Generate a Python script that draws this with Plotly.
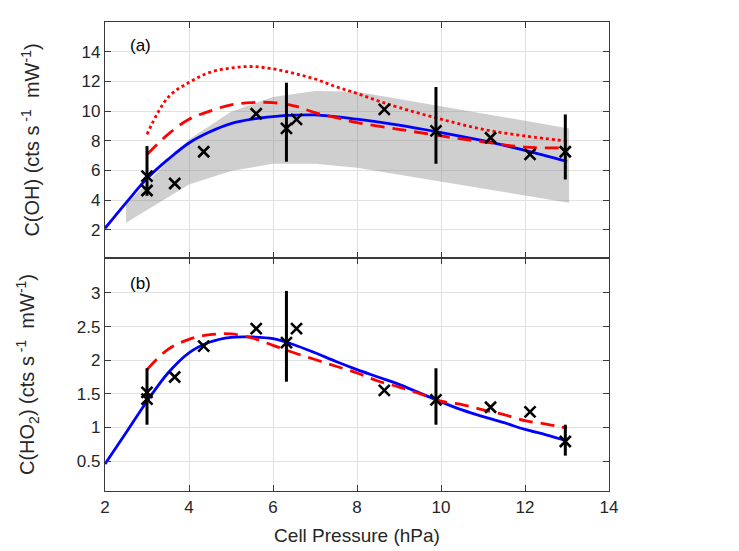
import plotly.graph_objects as go

# ---------------- data ----------------
# Panel (a): C(OH)
oh_obs_x = [3.0, 3.0, 3.66, 4.35, 5.6, 6.32, 6.56, 8.65, 9.88, 11.18, 12.12, 12.96]
oh_obs_y = [5.62, 4.65, 5.12, 7.26, 9.82, 8.83, 9.44, 10.11, 8.66, 8.2, 7.08, 7.26]

oh_err_x = [3.0, 6.32, 9.88, 12.96]
oh_err_lo = [4.29, 6.59, 6.45, 5.39]
oh_err_hi = [7.64, 11.91, 11.62, 9.77]

oh_fit_x = [2.0, 2.5, 3.0, 3.5, 4.0, 4.5, 5.0, 5.5, 6.0, 6.5, 7.0, 8.0, 9.0, 10.0, 11.0, 12.0, 13.0]
oh_fit_y = [2.1, 3.82, 5.45, 6.74, 7.85, 8.6, 9.15, 9.45, 9.62, 9.72, 9.74, 9.45, 9.05, 8.55, 8.0, 7.35, 6.6]

oh_dash_x = [3.0, 3.5, 4.0, 4.5, 5.0, 5.5, 6.0, 6.5, 7.0, 7.5, 8.0, 9.0, 10.0, 11.0, 12.0, 13.0]
oh_dash_y = [7.07, 8.43, 9.45, 10.0, 10.42, 10.57, 10.57, 10.35, 9.9, 9.56, 9.22, 8.77, 8.32, 7.93, 7.57, 7.53]

oh_dot_x = [3.0, 3.5, 4.0, 4.5, 5.0, 5.5, 6.0, 6.5, 7.0, 7.5, 8.0, 8.5, 9.0, 10.0, 11.0, 12.0, 13.0]
oh_dot_y = [8.43, 10.92, 11.93, 12.61, 12.9, 13.0, 12.84, 12.54, 12.16, 11.64, 11.19, 10.69, 10.24, 9.45, 8.77, 8.32, 7.98]

band_x = [2.5, 4.0, 5.0, 6.0, 7.0, 8.0, 13.05]
band_hi = [3.68, 8.09, 9.96, 10.95, 11.35, 11.3, 8.83]
band_lo = [2.47, 5.05, 5.96, 6.45, 6.45, 6.18, 3.82]

# Panel (b): C(HO2)
ho2_obs_x = [3.0, 3.0, 3.66, 4.35, 5.6, 6.32, 6.56, 8.65, 9.88, 11.18, 12.12, 12.96]
ho2_obs_y = [1.52, 1.42, 1.75, 2.21, 2.47, 2.26, 2.47, 1.55, 1.41, 1.30, 1.23, 0.79]

ho2_err_x = [3.0, 6.32, 9.88, 12.96]
ho2_err_lo = [1.04, 1.68, 1.04, 0.58]
ho2_err_hi = [1.88, 3.03, 1.88, 1.04]

ho2_fit_x = [2.0, 2.5, 3.0, 3.5, 4.0, 4.5, 5.0, 5.5, 6.0, 6.5, 7.0, 7.5, 8.0, 8.5, 9.0, 9.5,
             10.0, 10.5, 11.0, 11.5, 12.0, 12.5, 13.0]
ho2_fit_y = [0.455, 0.92, 1.39, 1.81, 2.11, 2.27, 2.34, 2.345, 2.32, 2.23, 2.11, 1.98, 1.86,
             1.75, 1.64, 1.51, 1.38, 1.26, 1.16, 1.07, 0.97, 0.89, 0.80]

ho2_dash_x = [3.0, 3.5, 4.0, 4.5, 5.0, 5.5, 6.0, 6.5, 7.0, 7.5, 8.0, 8.5, 9.0, 9.5,
              10.0, 10.5, 11.0, 11.5, 12.0, 12.5, 13.0]
ho2_dash_y = [1.86, 2.16, 2.31, 2.38, 2.39, 2.33, 2.22, 2.11, 2.01, 1.91, 1.81, 1.69, 1.60, 1.50,
              1.39, 1.34, 1.26, 1.19, 1.10, 1.05, 0.99]

x_ticks = [2, 4, 6, 8, 10, 12, 14]
oh_ticks = [2, 4, 6, 8, 10, 12, 14]
ho2_ticks = [0.5, 1, 1.5, 2, 2.5, 3]

# ---------------- figure ----------------
FONT = "Liberation Sans, Arial, Helvetica, sans-serif"
BLUE = "#0000ff"
RED = "#ff0000"
GRID = "#e1e1e1"
AXC = "#3a3a3a"
TXT = "#262626"

fig = go.Figure()


def add_panel(xa, ya, fit_x, fit_y, dash_x, dash_y, obs_x, obs_y, ex, elo, ehi):
    fig.add_trace(go.Scatter(x=fit_x, y=fit_y, mode="lines", line=dict(color=BLUE, width=2.8, shape="spline"),
                             xaxis=xa, yaxis=ya, hoverinfo="skip"))
    fig.add_trace(go.Scatter(x=dash_x, y=dash_y, mode="lines",
                             line=dict(color=RED, width=2.8, dash="14px,8px", shape="spline"),
                             xaxis=xa, yaxis=ya, hoverinfo="skip"))
    mid = [(a + b) / 2 for a, b in zip(elo, ehi)]
    half = [(b - a) / 2 for a, b in zip(elo, ehi)]
    fig.add_trace(go.Scatter(x=ex, y=mid, mode="markers", marker=dict(size=1, opacity=0),
                             error_y=dict(type="data", array=half, visible=True, color="black",
                                          thickness=3, width=0),
                             xaxis=xa, yaxis=ya, hoverinfo="skip"))
    fig.add_trace(go.Scatter(x=obs_x, y=obs_y, mode="markers",
                             marker=dict(symbol="x-thin", size=11, color="black",
                                         line=dict(color="black", width=2.6)),
                             xaxis=xa, yaxis=ya))


# top panel band and dotted line
fig.add_trace(go.Scatter(x=band_x + band_x[::-1], y=band_hi + band_lo[::-1], fill="toself",
                         fillcolor="rgba(128,128,128,0.38)", line=dict(width=0, color="rgba(0,0,0,0)"),
                         mode="lines", xaxis="x2", yaxis="y2", hoverinfo="skip"))
fig.add_trace(go.Scatter(x=oh_dot_x, y=oh_dot_y, mode="lines",
                         line=dict(color=RED, width=2.8, dash="3px,3px", shape="spline"),
                         xaxis="x2", yaxis="y2", hoverinfo="skip"))
add_panel("x2", "y2", oh_fit_x, oh_fit_y, oh_dash_x, oh_dash_y, oh_obs_x, oh_obs_y,
          oh_err_x, oh_err_lo, oh_err_hi)
add_panel("x", "y", ho2_fit_x, ho2_fit_y, ho2_dash_x, ho2_dash_y, ho2_obs_x, ho2_obs_y,
          ho2_err_x, ho2_err_lo, ho2_err_hi)

split = 233 / 469

common_axis = dict(showgrid=True, gridcolor=GRID, gridwidth=1, showline=True, linecolor=AXC,
                   linewidth=1.2, mirror="ticks", ticks="inside", ticklen=6, tickcolor=AXC,
                   zeroline=False, tickfont=dict(family=FONT, size=17, color=TXT))

TITLE_FONT = dict(family=FONT, size=20, color=TXT)

fig.update_layout(
    width=739, height=551,
    margin=dict(l=97, r=138, t=14, b=68),
    paper_bgcolor="white", plot_bgcolor="white",
    showlegend=False,
    font=dict(family=FONT, color=TXT),
    xaxis=dict(domain=[0, 1], anchor="y", range=[2, 14], tickvals=x_ticks,
               title=dict(text="Cell Pressure (hPa)", font=dict(family=FONT, size=19, color=TXT), standoff=13),
               **common_axis),
    xaxis2=dict(domain=[0, 1], anchor="y2", range=[2, 14], tickvals=x_ticks, matches="x",
                showticklabels=False, **common_axis),
    yaxis=dict(domain=[0, split], anchor="x", range=[0.054, 3.52], tickvals=ho2_ticks,
               title=dict(text="C(HO<sub>2</sub>) (cts s<sup> -1</sup>  mW<sup>-1</sup>)",
                          font=TITLE_FONT, standoff=36),
               **common_axis),
    yaxis2=dict(domain=[split, 1], anchor="x2", range=[0.1, 16], tickvals=oh_ticks,
                title=dict(text="C(OH) (cts s<sup> -1</sup>  mW<sup>-1</sup>)",
                           font=TITLE_FONT, standoff=36),
                **common_axis),
    annotations=[
        dict(text="(a)", xref="x2 domain", yref="y2 domain", x=0.045, y=0.9, xanchor="left",
             yanchor="middle", showarrow=False, font=dict(family=FONT, size=17, color="black")),
        dict(text="(b)", xref="x domain", yref="y domain", x=0.045, y=0.89, xanchor="left",
             yanchor="middle", showarrow=False, font=dict(family=FONT, size=17, color="black")),
    ],
)

fig.write_html("out.html")
